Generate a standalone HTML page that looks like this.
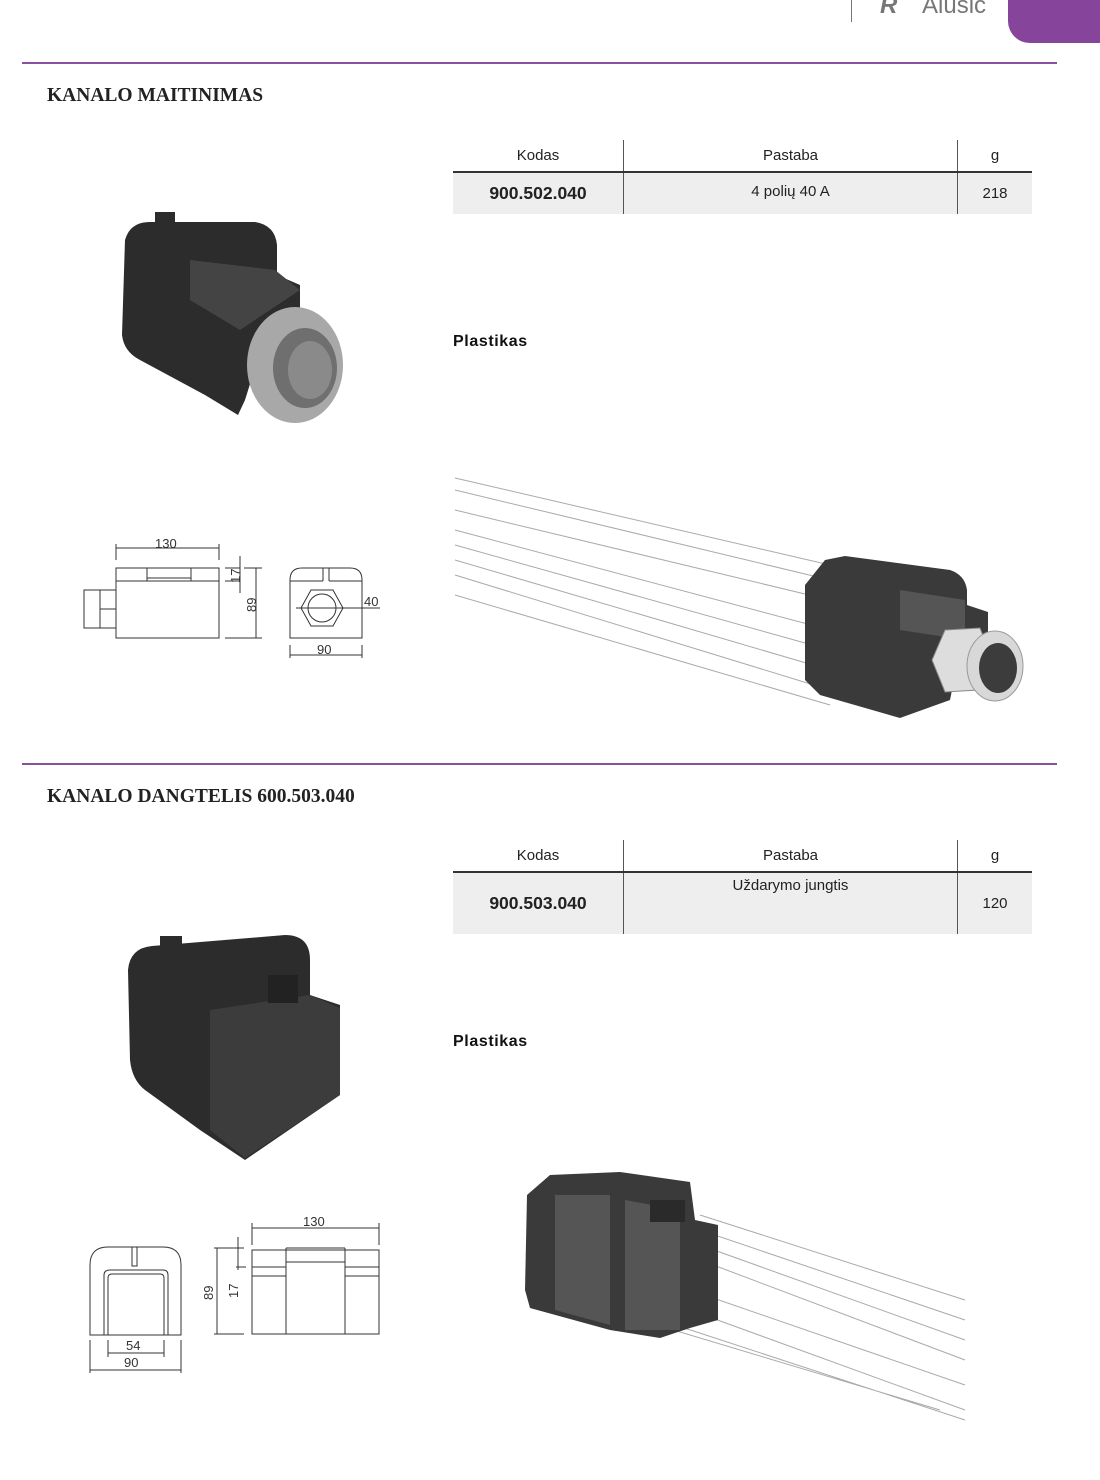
<!DOCTYPE html>
<html><head><meta charset="utf-8"><style>
body{margin:0;background:#fff;}
.p{position:relative;width:1100px;height:1480px;overflow:hidden;font-family:"Liberation Sans",sans-serif;}
.h{position:absolute;font-family:"Liberation Serif",serif;font-weight:bold;font-size:19.5px;color:#222;}
.hr{position:absolute;left:22px;width:1035px;height:2px;background:#8a4f9e;}
table{position:absolute;left:453px;width:579px;border-collapse:collapse;font-size:15px;color:#222;}
td{text-align:center;padding:0;}
.pl{position:absolute;left:453px;font-weight:bold;font-size:16px;letter-spacing:0.6px;color:#111;}
</style></head><body><div class="p">
<div style="position:absolute;left:851px;top:0;width:1px;height:22px;background:#777"></div>
<div style="position:absolute;left:880px;top:-8px;font-size:24px;color:#777;font-style:italic;font-weight:bold">R</div>
<div style="position:absolute;left:922px;top:-8px;font-size:24px;color:#777">Alusic</div>
<div style="position:absolute;left:1008px;top:-20px;width:120px;height:63px;background:#86449a;border-radius:22px"></div>
<div class="hr" style="top:62px"></div>
<div class="h" style="left:47px;top:85px">KANALO MAITINIMAS</div>

<table style="top:140px">
<tr style="height:32px;border-bottom:2px solid #333"><td style="width:170px;border-right:1px solid #555">Kodas</td><td style="width:333px;border-right:1px solid #555">Pastaba</td><td>g</td></tr>
<tr style="height:42px;background:#eee"><td style="font-weight:bold;font-size:17.5px;border-right:1px solid #555">900.502.040</td><td style="border-right:1px solid #555;vertical-align:top;padding-top:10px">4 polių 40 A</td><td>218</td></tr>
</table>
<div class="pl" style="top:333px">Plastikas</div>

<svg style="position:absolute;left:0;top:0" width="1100" height="1480">
<g fill="#2c2c2c">
<path d="M125 240 Q130 222 150 222 L255 222 Q275 225 277 245 L277 275 L300 285 L300 310 L270 320 L245 400 L238 415 L205 395 L140 360 Q124 352 122 335 Z"/>
<rect x="155" y="212" width="20" height="18"/>
</g>
<g fill="#444"><path d="M190 260 L275 270 L300 290 L240 330 L190 300Z"/></g>
<ellipse cx="295" cy="365" rx="48" ry="58" fill="#a8a8a8"/>
<ellipse cx="305" cy="368" rx="32" ry="40" fill="#6f6f6f"/>
<ellipse cx="310" cy="370" rx="22" ry="29" fill="#8a8a8a"/>

<g stroke="#333" stroke-width="1" fill="none" font-size="13" >
<rect x="116" y="568" width="103" height="70"/>
<path d="M116 581 H219 M147 568 V581 M191 568 V581 M147 578 H191"/>
<rect x="84" y="590" width="32" height="38"/><path d="M100 590 V628 M100 609 H116"/>
<path d="M116 548 H219 M116 544 V560 M219 544 V560"/>
<path d="M225 568 H240 M225 581 H240 M240 556 V593 M225 638 H262 M256 568 V638 M244 568 H262"/>
<path d="M290 580 Q290 568 302 568 L350 568 Q362 568 362 580 L362 638 L290 638 Z M290 581 H323 M329 581 H362 M323 568 V581 M329 568 V581"/>
<polygon points="311,590 333,590 343,608 333,626 311,626 301,608"/>
<circle cx="322" cy="608" r="14"/>
<path d="M296 608 H380 M290 645 V658 M362 645 V658 M290 655 H362"/>
</g>
<g font-size="13" fill="#333" font-family="Liberation Sans Narrow,Liberation Sans,sans-serif">
<text x="155" y="548">130</text><text x="240" y="583" transform="rotate(-90 240 583)">17</text>
<text x="256" y="612" transform="rotate(-90 256 612)">89</text><text x="364" y="606">40</text><text x="317" y="654">90</text>
</g>

<g stroke="#aaa" stroke-width="1">
<path d="M455 478 L830 565 M455 490 L830 580 M455 510 L830 600 M455 530 L830 630 M455 545 L830 650 M455 560 L830 670 M455 575 L830 690 M455 595 L830 705"/>
</g>
<g fill="#3a3a3a"><path d="M805 585 L825 560 L845 556 L950 570 Q965 575 967 590 L967 605 L988 612 L988 640 L960 650 L950 700 L900 718 L820 695 L805 680 Z"/></g>
<g fill="#555"><path d="M900 590 L965 600 L965 640 L900 630Z"/></g>
<polygon points="945,630 980,628 992,660 978,690 945,692 932,660" fill="#ddd" stroke="#888"/>
<ellipse cx="995" cy="666" rx="28" ry="35" fill="#d8d8d8" stroke="#999"/>
<ellipse cx="998" cy="668" rx="19" ry="25" fill="#3c3c3c"/>
</svg>

<div class="hr" style="top:763px"></div>
<div class="h" style="left:47px;top:786px">KANALO DANGTELIS 600.503.040</div>

<table style="top:840px">
<tr style="height:32px;border-bottom:2px solid #333"><td style="width:170px;border-right:1px solid #555">Kodas</td><td style="width:333px;border-right:1px solid #555">Pastaba</td><td>g</td></tr>
<tr style="height:62px;background:#eee"><td style="font-weight:bold;font-size:17.5px;border-right:1px solid #555">900.503.040</td><td style="border-right:1px solid #555;vertical-align:top;padding-top:4px">Uždarymo jungtis</td><td>120</td></tr>
</table>
<div class="pl" style="top:1033px">Plastikas</div>

<svg style="position:absolute;left:0;top:0" width="1100" height="1480">
<g fill="#2c2c2c">
<path d="M128 970 Q130 948 152 946 L285 935 Q310 935 310 960 L310 995 L340 1005 L340 1095 L245 1160 L200 1130 L145 1090 Q132 1080 130 1060 Z"/>
<rect x="160" y="936" width="22" height="16"/>
</g>
<g fill="#3c3c3c"><path d="M210 1010 L310 995 L340 1008 L340 1095 L245 1158 L210 1130 Z"/></g>
<g fill="#222"><rect x="268" y="975" width="30" height="28"/></g>

<g stroke="#333" stroke-width="1" fill="none">
<path d="M90 1335 V1265 Q90 1247 108 1247 L163 1247 Q181 1247 181 1265 V1335 Z"/>
<path d="M104 1335 V1275 Q104 1270 110 1270 L163 1270 Q168 1270 168 1275 V1335 M108 1335 V1278 Q108 1274 112 1274 L160 1274 Q164 1274 164 1278 V1335 M132 1247 V1266 H137 V1247"/>
<path d="M108 1340 V1357 M164 1340 V1357 M108 1353 H164 M90 1340 V1373 M181 1340 V1373 M90 1370 H181"/>
<rect x="252" y="1250" width="127" height="84"/>
<path d="M286 1248 V1334 M345 1248 V1334 M286 1248 H345 M286 1262 H345 M252 1267 H286 M252 1276 H286 M345 1267 H379 M345 1276 H379"/>
<path d="M252 1228 H379 M252 1223 V1245 M379 1223 V1245 M214 1248 H244 M214 1334 H244 M217 1248 V1334 M238 1237 V1270 M236 1267 H246"/>
</g>
<g font-size="13" fill="#333">
<text x="126" y="1350">54</text><text x="124" y="1367">90</text><text x="303" y="1226">130</text>
<text x="213" y="1300" transform="rotate(-90 213 1300)">89</text><text x="238" y="1298" transform="rotate(-90 238 1298)">17</text>
</g>

<g stroke="#aaa" stroke-width="1">
<path d="M700 1215 L965 1300 M700 1230 L965 1320 M700 1245 L965 1340 M700 1260 L965 1360 M690 1290 L965 1385 M690 1310 L965 1410 M660 1320 L965 1420 M640 1320 L940 1410"/>
</g>
<g fill="#3a3a3a"><path d="M527 1195 L550 1175 L620 1172 L690 1182 L695 1220 L718 1225 L718 1320 L690 1328 L660 1338 L610 1330 L530 1308 L525 1290 Z"/></g>
<g fill="#555"><path d="M555 1195 L610 1195 L610 1325 L555 1310Z M625 1200 L680 1210 L680 1330 L625 1330Z"/></g>
<g fill="#2a2a2a"><rect x="650" y="1200" width="35" height="22"/></g>
</svg>
</div></body></html>
